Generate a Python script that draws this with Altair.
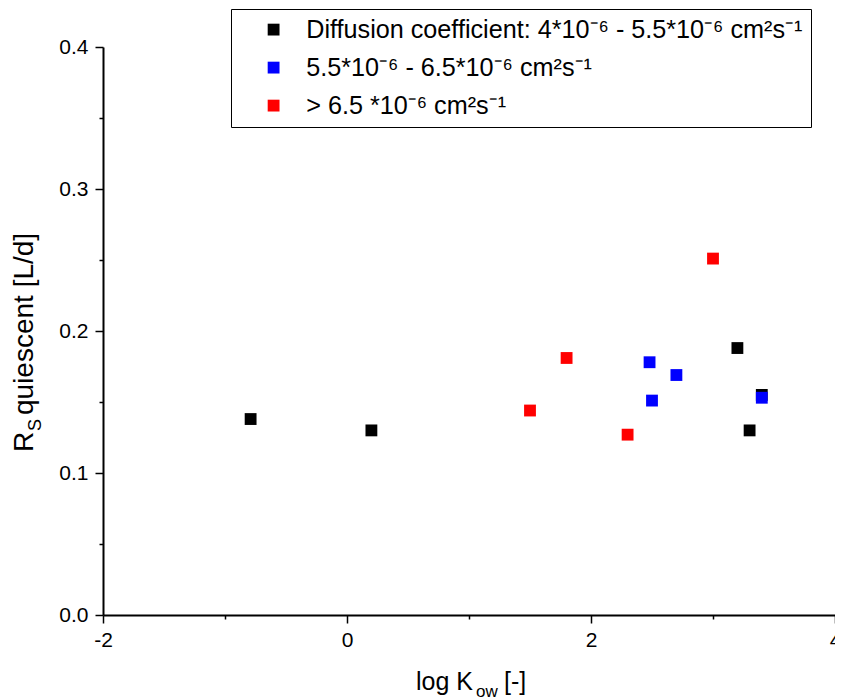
import altair as alt
import pandas as pd

FONT = "Liberation Sans"

groups = [
    "Diffusion coefficient: 4*10⁻⁶ - 5.5*10⁻⁶ cm²s⁻¹",
    "5.5*10⁻⁶ - 6.5*10⁻⁶ cm²s⁻¹",
    "> 6.5 *10⁻⁶ cm²s⁻¹",
]
colors = ["#000000", "#0000ff", "#ff0000"]

black_x = [-0.79, 0.2, 3.2, 3.4, 3.3]
black_y = [0.138, 0.130, 0.188, 0.155, 0.130]
blue_x = [2.48, 2.5, 2.7, 3.4]
blue_y = [0.178, 0.151, 0.169, 0.153]
red_x = [1.5, 1.8, 2.3, 3.0]
red_y = [0.144, 0.181, 0.127, 0.251]

x_ticks = [-2, -1, 0, 1, 2, 3, 4]
y_ticks = [0.0, 0.05, 0.1, 0.15, 0.2, 0.25, 0.3, 0.35, 0.4]

rows = []
for g, xs, ys in zip(groups, [black_x, blue_x, red_x], [black_y, blue_y, red_y]):
    for a, b in zip(xs, ys):
        rows.append({"x": a, "y": b, "group": g})
df = pd.DataFrame(rows)

x_major = "datum.value % 2 === 0"
y_major = "abs(datum.value*10 - round(datum.value*10)) < 0.001"

x_axis = alt.Axis(
    values=x_ticks,
    labelExpr=f"{x_major} ? '' + datum.value : ''",
    tickSize={"condition": {"test": x_major, "value": 8}, "value": 4},
    tickWidth=1.5, tickColor="black",
    domainColor="black", domainWidth=2,
    labelFont=FONT, labelFontSize=21, labelColor="black", labelPadding=6,
    labelFlush=False, labelOverlap=False,
    grid=False, title=None,
)
y_axis = alt.Axis(
    values=y_ticks,
    labelExpr=f"{y_major} ? format(datum.value, '.1f') : ''",
    tickSize={"condition": {"test": y_major, "value": 8}, "value": 4},
    tickWidth=1.5, tickColor="black",
    domainColor="black", domainWidth=2,
    labelFont=FONT, labelFontSize=21, labelColor="black", labelPadding=7,
    labelFlush=False, labelOverlap=False,
    grid=False, title=None,
)

points = alt.Chart(df).mark_square(size=140, opacity=1).encode(
    x=alt.X("x:Q", scale=alt.Scale(domain=[-2, 4], nice=False, zero=False), axis=x_axis),
    y=alt.Y("y:Q", scale=alt.Scale(domain=[0, 0.4], nice=False, zero=False), axis=y_axis),
    color=alt.Color(
        "group:N",
        scale=alt.Scale(domain=groups, range=colors),
        legend=alt.Legend(
            title=None, orient="none", legendX=128, legendY=-38, direction="vertical",
            strokeColor="black", fillColor="white", padding=8, rowPadding=12,
            symbolType="square", symbolSize=140, symbolOffset=22, labelOffset=20,
            symbolStrokeWidth=0,
            labelFont=FONT, labelFontSize=25.2, labelColor="black", labelLimit=0,
        ),
    ),
)


def txt(s, x, y, size, angle=0):
    return alt.Chart(pd.DataFrame({"t": [s]})).mark_text(
        text=s, font=FONT, fontSize=size, color="black",
        align="left", baseline="alphabetic", angle=angle,
    ).encode(x=alt.value(x), y=alt.value(y))


# x title: log K_ow [-]
xt1 = txt("log K", 313, 643, 25)
xt2 = txt("ow", 373, 650, 17)
xt3 = txt("[-]", 401, 643, 25)
# y title: R_S quiescent [L/d]  (rotated)
yt1 = txt("R", -70, 405, 28, 270)
yt2 = txt("S", -62, 384, 18, 270)
yt3 = txt("quiescent [L/d]", -70, 368, 28, 270)

chart = alt.layer(points, xt1, xt2, xt3, yt1, yt2, yt3).properties(
    width=732, height=568,
    padding={"left": 95, "top": 39, "right": 0, "bottom": 85},
    autosize=alt.AutoSizeParams(type="none"),
).configure_view(strokeWidth=0)

chart.save("out.html", embed_options={"renderer": "svg", "actions": False})
